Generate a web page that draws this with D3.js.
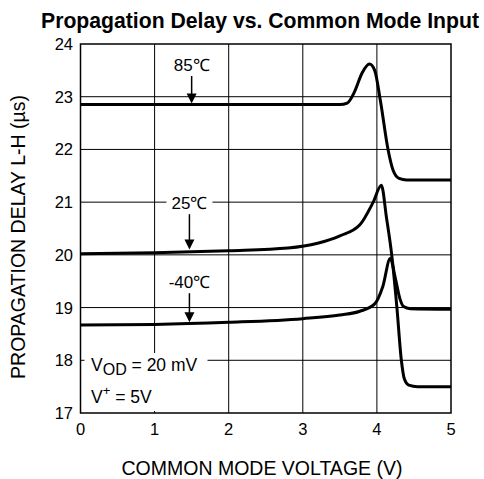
<!DOCTYPE html>
<html>
<head>
<meta charset="utf-8">
<script src="https://cdn.jsdelivr.net/npm/d3@7"></script>
<style>
  body { margin: 0; background: #fff; }
  text { font-family: "Liberation Sans", Arial, sans-serif; fill: #000; }
</style>
</head>
<body>
<svg id="chart"></svg>
<script>
const xTicks = [0, 1, 2, 3, 4, 5]
const yTicks = [17, 18, 19, 20, 21, 22, 23, 24]

// [voltage, delay]
const hot85 = [[0, 22.85], [3.5, 22.85], [3.6, 22.88], [3.7, 23.1], [3.8, 23.45], [3.9, 23.62], [3.97, 23.5],
    [4.05, 22.9], [4.15, 22.0], [4.22, 21.6], [4.3, 21.45], [4.4, 21.42], [5, 21.42]]
const room25 = [[0, 20.02], [1, 20.04], [2, 20.08], [2.8, 20.13], [3.2, 20.22], [3.5, 20.36], [3.77, 20.57],
    [3.95, 21.0], [4.06, 21.32], [4.13, 20.7], [4.2, 20.0], [4.27, 19.0], [4.33, 18.0], [4.37, 17.65],
    [4.43, 17.53], [4.55, 17.5], [5, 17.5]]
const cold40 = [[0, 18.67], [1, 18.68], [2, 18.72], [3, 18.79], [3.5, 18.86], [3.77, 18.93], [3.97, 19.07],
    [4.08, 19.4], [4.18, 19.93], [4.25, 19.55], [4.31, 19.17], [4.36, 19.02], [4.45, 18.98], [5, 18.97]]

// label text, arrow x (V), label y (delay), arrow tip (delay)
const tempLabels = [["85℃", 1.5, 23.62, 22.87], ["25℃", 1.47, 21.0, 20.1], ["-40℃", 1.47, 19.5, 18.72]]

const width = 484, height = 479
const svg = d3.select("#chart").attr("width", width).attr("height", height)

const x = d3.scaleLinear().domain([0, 5]).range([80.5, 451])
const y = d3.scaleLinear().domain([17, 24]).range([413, 44])

// grid
svg.append("g").selectAll("line").data(xTicks.slice(1, -1)).enter().append("line")
    .attr("x1", d => x(d)).attr("x2", d => x(d)).attr("y1", y(24)).attr("y2", y(17))
    .attr("stroke", "#000").attr("stroke-width", 1)
svg.append("g").selectAll("line").data(yTicks.slice(1, -1)).enter().append("line")
    .attr("x1", x(0)).attr("x2", x(5)).attr("y1", d => y(d)).attr("y2", d => y(d))
    .attr("stroke", "#000").attr("stroke-width", 1)

// label box bottom-left
svg.append("rect").attr("x", x(0) + 4).attr("y", 353).attr("width", 123).attr("height", y(17) - 355)
    .attr("fill", "#fff")

let line = d3.line().x(d => x(d[0])).y(d => y(d[1])).curve(d3.curveMonotoneX)
svg.append("g").selectAll("path").data([hot85, room25, cold40]).enter().append("path")
    .attr("d", line).attr("fill", "none").attr("stroke", "#000").attr("stroke-width", 3)
    .attr("stroke-linejoin", "round")

// frame
svg.append("rect").attr("x", x(0)).attr("y", y(24)).attr("width", x(5) - x(0)).attr("height", y(17) - y(24))
    .attr("fill", "none").attr("stroke", "#000").attr("stroke-width", 1.5)

// axis labels
svg.append("g").selectAll("text").data(xTicks).enter().append("text")
    .attr("x", d => x(d)).attr("y", 435).attr("text-anchor", "middle").attr("font-size", 16.5).text(d => d)
svg.append("g").selectAll("text").data(yTicks).enter().append("text")
    .attr("x", 73).attr("y", d => y(d) + 6).attr("text-anchor", "end").attr("font-size", 16.5).text(d => d)

svg.append("text").attr("x", 262).attr("y", 475).attr("text-anchor", "middle").attr("font-size", 19.5)
    .text("COMMON MODE VOLTAGE (V)")
svg.append("text").attr("transform", "translate(25,237) rotate(-90)").attr("text-anchor", "middle")
    .attr("font-size", 19.5).text("PROPAGATION DELAY L-H (µs)")

svg.append("text").attr("x", 260).attr("y", 28).attr("text-anchor", "middle").attr("font-size", 21.2)
    .attr("font-weight", "bold").text("Propagation Delay vs. Common Mode Input")

// temperature labels with arrows
let tl = svg.append("g").selectAll("g").data(tempLabels).enter().append("g")
tl.append("rect").attr("x", d => x(d[1]) - 23).attr("y", d => y(d[2]) - 10).attr("width", 46).attr("height", 20)
    .attr("fill", "#fff")
tl.append("text").attr("x", d => x(d[1])).attr("y", d => y(d[2]) + 6.5).attr("text-anchor", "middle")
    .attr("font-size", 17).text(d => d[0])
tl.append("line").attr("x1", d => x(d[1])).attr("x2", d => x(d[1]))
    .attr("y1", d => y(d[2]) + 12).attr("y2", d => y(d[3]) - 6)
    .attr("stroke", "#000").attr("stroke-width", 1.5)
tl.append("path").attr("d", d => {
    let cx = x(d[1]), ty = y(d[3])
    return `M${cx - 5},${ty - 10}L${cx + 5},${ty - 10}L${cx},${ty}Z`
}).attr("fill", "#000")

// conditions
let c1 = svg.append("text").attr("x", 91).attr("y", 371).attr("font-size", 17.5)
c1.append("tspan").text("V")
c1.append("tspan").attr("dy", 4).attr("font-size", 16).text("OD")
c1.append("tspan").attr("dy", -4).text(" = 20 mV")
let c2 = svg.append("text").attr("x", 91).attr("y", 403).attr("font-size", 17.5)
c2.append("tspan").text("V")
c2.append("tspan").attr("dy", -8).attr("font-size", 13).text("+")
c2.append("tspan").attr("dy", 8).text(" = 5V")
</script>
</body>
</html>
